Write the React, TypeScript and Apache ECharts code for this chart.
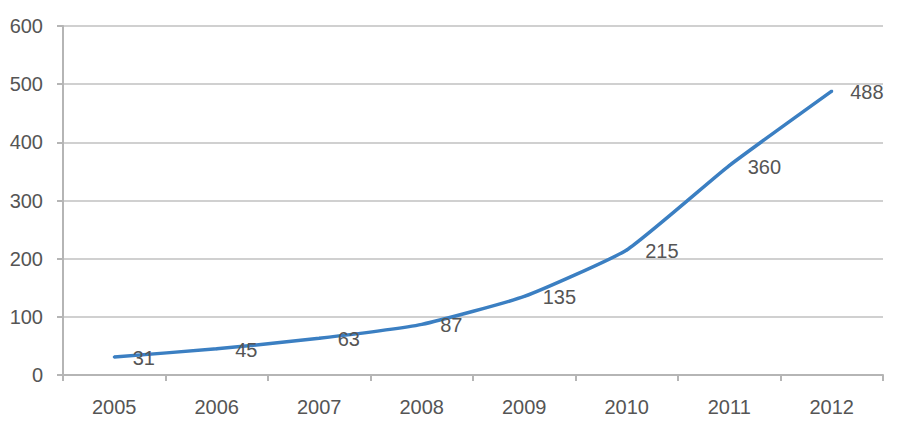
import React, { useEffect, useRef } from "react";
import * as echarts from "echarts";

const years = ["2005", "2006", "2007", "2008", "2009", "2010", "2011", "2012"];
const values = [31, 45, 63, 87, 135, 215, 360, 488];
const yMin = 0;
const yMax = 600;
const yInterval = 100;

export default function App() {
  const ref = useRef<HTMLDivElement>(null);
  useEffect(() => {
    if (!ref.current) return;
    const chart = echarts.init(ref.current, null, { renderer: "svg" });
    const font = "'Liberation Sans', Arial, Helvetica, sans-serif";
    chart.setOption({
      animation: false,
      grid: { left: 63, right: 19, top: 26, bottom: 61 },
      xAxis: {
        type: "category",
        data: years,
        boundaryGap: true,
        axisLine: { lineStyle: { color: "#b5b5b5", width: 2 } },
        axisTick: { show: true, length: 6, lineStyle: { color: "#b5b5b5", width: 2 } },
        axisLabel: { color: "#555", fontSize: 20, fontFamily: font, margin: 22 },
      },
      yAxis: {
        type: "value",
        min: yMin,
        max: yMax,
        interval: yInterval,
        axisLine: { show: true, lineStyle: { color: "#b5b5b5", width: 2 } },
        axisTick: { show: true, length: 6, lineStyle: { color: "#b5b5b5", width: 2 } },
        splitLine: { lineStyle: { color: "#c0c0c0", width: 1.5 } },
        axisLabel: { color: "#555", fontSize: 20, fontFamily: font, margin: 20 },
      },
      series: [
        {
          type: "line",
          data: values,
          smooth: 0.15,
          symbol: "circle",
          symbolSize: 3,
          showSymbol: true,
          itemStyle: { color: "#3b7fc2" },
          lineStyle: { color: "#3b7fc2", width: 3.5 },
          label: {
            show: true,
            position: "right",
            distance: 17,
            offset: [0, 1],
            color: "#555",
            fontSize: 20,
            fontFamily: font,
          },
        },
      ],
    });
    return () => chart.dispose();
  }, []);
  return <div ref={ref} style={{ width: 902, height: 436, margin: -8 }} />;
}
